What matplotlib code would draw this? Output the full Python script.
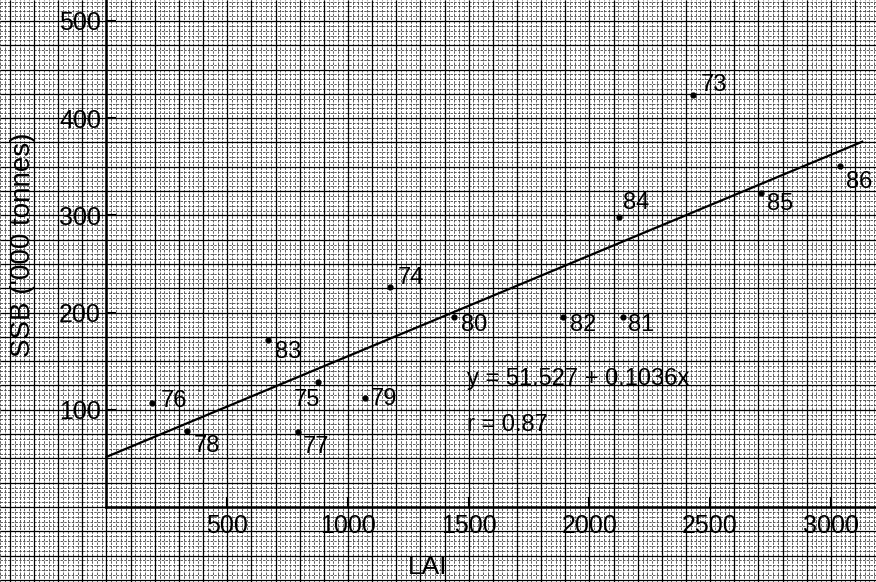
import numpy as np
import matplotlib
matplotlib.use("Agg")
import matplotlib.pyplot as plt

plt.rcParams['font.family'] = ['Liberation Sans', 'DejaVu Sans']

# values
years = ['73', '74', '75', '76', '77', '78', '79', '80', '81', '82', '83', '84', '85', '86']
lai = [2429, 1175, 875, 188, 792, 334, 1069, 1439, 2139, 1890, 668, 2121, 2709, 3039]
ssb = [424, 226, 129, 107, 77, 78, 112, 195, 195, 195, 172, 298, 323, 351]

intercept = 51.527
slope = 0.1036
r_value = 0.87

xticks = [500, 1000, 1500, 2000, 2500, 3000]
yticks = [100, 200, 300, 400, 500]

# label offsets (pixels) from each dot
label_off = {
    '73': (8, 10, 'left'), '74': (8, 9, 'left'), '75': (2, -18, 'right'),
    '76': (9, 2, 'left'), '77': (5, -15, 'left'), '78': (7, -15, 'left'),
    '79': (6, -1, 'left'), '80': (7, -8, 'left'), '81': (5, -8, 'left'),
    '82': (7, -8, 'left'), '83': (7, -12, 'left'), '84': (4, 14, 'left'),
    '85': (6, -11, 'left'), '86': (6, -16, 'left'),
}

fig = plt.figure(figsize=(8.76, 5.82), dpi=100)
ax = fig.add_axes([0, 0, 1, 1])
xmin, xmax = -441, 3187
ymin, ymax = -77.2, 521.6
ax.set_xlim(xmin, xmax)
ax.set_ylim(ymin, ymax)

# graph paper
ax.vlines(np.arange(-440, 3200, 20), ymin, ymax, color='#444444', lw=0.6,
          linestyles=(0, (3, 1.5)), zorder=0)
ax.hlines(np.arange(-75, 525, 5), xmin, xmax, color='#444444', lw=0.6,
          linestyles=(0, (3, 1.5)), zorder=0)
ax.vlines(np.arange(-400, 3200, 100), ymin, ymax, color='black', lw=0.9, zorder=0)
ax.hlines(np.arange(-75, 525, 25), xmin, xmax, color='black', lw=0.9, zorder=0)

# axes
for s in ['top', 'right']:
    ax.spines[s].set_visible(False)
ax.spines['left'].set_position(('data', 0))
ax.spines['bottom'].set_position(('data', 0))
ax.spines['left'].set_bounds(0, ymax)
ax.spines['bottom'].set_bounds(0, xmax)
ax.spines['left'].set_linewidth(1.8)
ax.spines['bottom'].set_linewidth(1.8)
ax.set_xticks(xticks)
ax.set_xticklabels([str(t) for t in xticks])
ax.set_yticks(yticks)
ax.set_yticklabels([str(t) for t in yticks])
ax.tick_params(direction='in', length=7, width=1.5, labelsize=18)
ax.tick_params(axis='x', pad=5)
ax.tick_params(axis='y', pad=4)

# regression line
xl = np.array([0, 3130])
ax.plot(xl, intercept + slope * xl, color='black', lw=1.6, zorder=3)

ax.plot(lai, ssb, 'o', color='black', ms=3.5, zorder=4)
for yr, x, y in zip(years, lai, ssb):
    dx, dy, ha = label_off[yr]
    ax.annotate(yr, (x, y), xytext=(dx, dy), textcoords='offset pixels',
                ha=ha, va='center', fontsize=17, zorder=5)

ax.text(1493, 132, f'y = {intercept} + {slope}x', ha='left', va='center', fontsize=17)
ax.text(1493, 84, f'r = {r_value}', ha='left', va='center', fontsize=17)

fig.text(23 / 876, 1 - 245 / 582, "SSB ('000 tonnes)", rotation=90,
         ha='center', va='center', fontsize=20)
fig.text(428 / 876, 1 - 555 / 582, 'LAI', ha='center', va='top', fontsize=19)

fig.savefig('out.png', dpi=100)
